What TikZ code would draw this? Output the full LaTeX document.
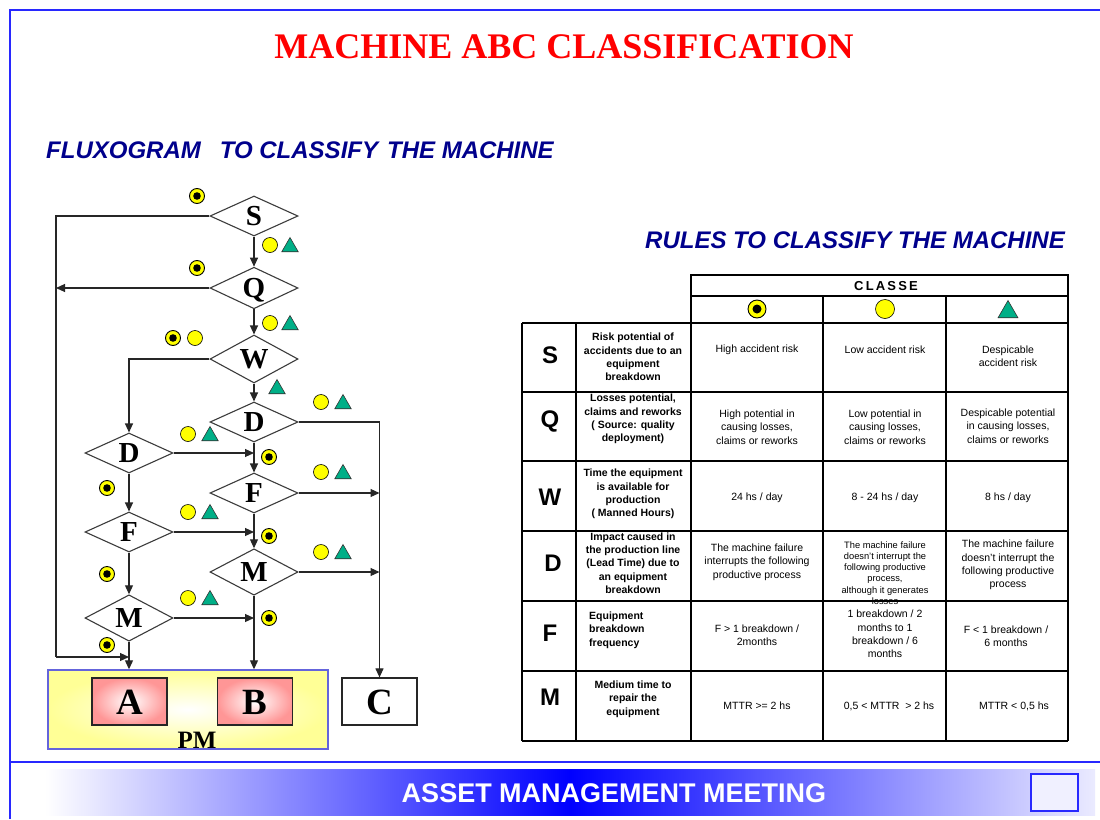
\documentclass[tikz,border=0pt]{standalone}
\usepackage{fontspec}
\setmainfont{Liberation Serif}
\setsansfont{Liberation Sans}
\usetikzlibrary{shapes.geometric,arrows.meta}

\definecolor{frameblue}{RGB}{40,40,255}
\definecolor{navy}{RGB}{0,0,140}
\definecolor{markyellow}{RGB}{255,255,0}
\definecolor{markgreen}{RGB}{0,175,135}
\definecolor{linegray}{RGB}{60,60,60}
\definecolor{pmyellow}{RGB}{255,255,150}
\definecolor{boxpink}{RGB}{255,150,150}
\definecolor{pmborder}{RGB}{100,100,220}
\definecolor{bandblue}{RGB}{0,0,255}

\tikzset{
  frame/.style={draw=frameblue, line width=1.6pt},
  dia/.style={diamond, draw=linegray, line width=1.1pt, fill=white,
    minimum width=88pt, minimum height=40pt, inner sep=0pt,
    font=\fontsize{29pt}{29pt}\selectfont\bfseries, text height=19pt, text depth=0pt},
  flow/.style={draw=black!85, line width=1.1pt},
  arr/.style={flow, -{Triangle[length=9pt,width=8pt]}},
  tgt/.style={circle, draw=black, line width=0.9pt, fill=markyellow, minimum size=15pt,
    inner sep=0pt, path picture={\fill[black] (path picture bounding box.center) circle (3.8pt);}},
  yel/.style={circle, draw=black, line width=0.6pt, fill=markyellow, minimum size=15pt, inner sep=0pt},
  tri/.style={regular polygon, regular polygon sides=3, draw=black!80, line width=0.6pt,
    fill=markgreen, minimum size=19pt, inner sep=0pt},
  letterbox/.style={draw=black!85, line width=1.2pt, minimum width=75pt, minimum height=47pt,
    inner sep=0pt, font=\fontsize{37pt}{37pt}\selectfont\bfseries, text height=25pt, text depth=0pt},
  pinkbox/.style={letterbox, inner color=white, outer color=boxpink},
  heading/.style={font=\sffamily\bfseries\itshape\fontsize{24pt}{24pt}\selectfont, text=navy,
    inner sep=0pt, anchor=west},
  grid/.style={draw=black, line width=1.3pt},
  tletter/.style={font=\sffamily\bfseries\fontsize{24pt}{24pt}\selectfont, text height=17pt,
    text depth=0pt, inner sep=0pt},
  tdesc/.style={font=\sffamily\bfseries\fontsize{10.5pt}{13.3pt}\selectfont, align=center, inner sep=0pt},
  tval/.style={font=\sffamily\fontsize{10.5pt}{13.4pt}\selectfont, align=center, inner sep=0pt},
  tsmall/.style={font=\sffamily\fontsize{9.3pt}{11.2pt}\selectfont, align=center, inner sep=0pt},
}

\begin{document}
\begin{tikzpicture}[x=1pt,y=-1pt]
\useasboundingbox (0,0) rectangle (1100,819);
\fill[white] (0,0) rectangle (1100,819);

% page frame and footer rule
\draw[frame] (10,819) -- (10,10) -- (1100,10);
\draw[frame] (10,762) -- (1100,762);

% titles
\node[font=\fontsize{36pt}{36pt}\selectfont\bfseries, text=red, inner sep=0pt] (title) at (564,47)
  {MACHINE ABC CLASSIFICATION};
\node[heading] (fluxhead) at (46,150)
  {FLUXOGRAM\hspace{19pt}TO CLASSIFY\hspace{9pt}THE MACHINE};
\node[heading] (ruleshead) at (645,240) {RULES TO CLASSIFY THE MACHINE};

% ---------------- flow chart ----------------
\node[dia] (S)  at (254,216) {S};
\node[dia] (Q)  at (254,288) {Q};
\node[dia] (W)  at (254,359) {W};
\node[dia] (D1) at (254,422) {D};
\node[dia] (F1) at (254,493) {F};
\node[dia] (M1) at (254,572) {M};
\node[dia] (D2) at (129,453) {D};
\node[dia] (F2) at (129,532) {F};
\node[dia] (M2) at (129,618) {M};

\node[draw=pmborder, line width=1.4pt, inner color=white, outer color=pmyellow,
  minimum width=280pt, minimum height=79pt, inner sep=0pt] (PM) at (188,709.5) {};
\node[pinkbox] (A) at (129.5,701.5) {A};
\node[pinkbox] (B) at (255,701.5) {B};
\node[letterbox, fill=white] (C) at (379.5,701.5) {C};
\node[font=\fontsize{25pt}{25pt}\selectfont\bfseries, text height=17pt, text depth=0pt,
  inner sep=0pt] (PMlabel) at (197,740) {PM};

\coordinate (trunkTop) at (56,216);
\coordinate (trunkBot) at (56,657);

% main column
\draw[arr] (S.south) -- (Q.north);
\draw[arr] (Q.south) -- (W.north);
\draw[arr] (W.south) -- (D1.north);
\draw[arr] (D1.south) -- (F1.north);
\draw[arr] (F1.south) -- (M1.north);
\draw[arr] (M1.south) -- (M1.south |- PM.north);
% left column
\draw[arr] (W.west) -| (D2.north);
\draw[arr] (D2.south) -- (F2.north);
\draw[arr] (F2.south) -- (M2.north);
\draw[arr] (M2.south) -- (M2.south |- PM.north);
\draw[arr] (D2.east) -- (D2.east -| D1.south);
\draw[arr] (F2.east) -- (F2.east -| D1.south);
\draw[arr] (M2.east) -- (M2.east -| D1.south);
% trunk on the far left
\draw[flow] (S.west) -- (trunkTop) -- (trunkBot);
\draw[arr] (trunkBot) -- (trunkBot -| M2.south);
\draw[arr] (Q.west) -- (Q.west -| trunkTop);
% right branch to C
\draw[arr] (D1.east) -| (C.north);
\draw[arr] (F1.east) -- (F1.east -| C.north);
\draw[arr] (M1.east) -- (M1.east -| C.north);

% class markers along the branches
\node[tgt] (mS1) at (197,196) {};
\node[yel] (mS2) at (270,245) {};
\node[tri] (mS3) at (290,247) {};
\node[tgt] (mQ1) at (197,268) {};
\node[yel] (mQ2) at (270,323) {};
\node[tri] (mQ3) at (290,325) {};
\node[tgt] (mW1) at (173,338) {};
\node[yel] (mW2) at (195,338) {};
\node[tri] (mW3) at (277,389) {};
\node[yel] (mD1a) at (321,402) {};
\node[tri] (mD1b) at (343,404) {};
\node[yel] (mD2a) at (188,434) {};
\node[tri] (mD2b) at (210,436) {};
\node[tgt] (mD2c) at (269,457) {};
\node[tgt] (mD2d) at (107,488) {};
\node[yel] (mF1a) at (321,472) {};
\node[tri] (mF1b) at (343,474) {};
\node[yel] (mF2a) at (188,512) {};
\node[tri] (mF2b) at (210,514) {};
\node[tgt] (mF2c) at (269,536) {};
\node[tgt] (mF2d) at (107,574) {};
\node[yel] (mM1a) at (321,552) {};
\node[tri] (mM1b) at (343,554) {};
\node[yel] (mM2a) at (188,598) {};
\node[tri] (mM2b) at (210,600) {};
\node[tgt] (mM2c) at (269,618) {};
\node[tgt] (mM2d) at (107,645) {};

% ---------------- rules table ----------------
\draw[grid] (691,275) rectangle (1068,296);
\draw[grid] (691,296) rectangle (1068,323);
\draw[grid] (823,296) -- (823,323);
\draw[grid] (946,296) -- (946,323);
\foreach \yy in {323,392,461,531,601,671,741}
  \draw[grid] (522,\yy) -- (1068,\yy);
\foreach \xx in {522,576,691,823,946,1068}
  \draw[grid] (\xx,323) -- (\xx,741);

\node[font=\sffamily\bfseries\fontsize{13pt}{13pt}\selectfont, inner sep=0pt] (classe) at (886,286)
  {C\,L\,A\,S\,S\,E};
\node[tgt, minimum size=18pt, path picture={\fill[black] (path picture bounding box.center) circle (4.5pt);}]
  (hTgt) at (757,309) {};
\node[yel, minimum size=19pt] (hYel) at (885,309) {};
\node[tri, minimum size=23pt] (hTri) at (1008,312) {};

% row letters
\node[tletter] (lS) at (550,355) {S};
\node[tletter] (lQ) at (550,419) {Q};
\node[tletter] (lW) at (550,497) {W};
\node[tletter] (lD) at (553,563) {D};
\node[tletter] (lF) at (550,633) {F};
\node[tletter] (lM) at (550,697) {M};

% criteria
\node[tdesc] (dS) at (633,357) {Risk potential of\\accidents due to an\\equipment\\breakdown};
\node[tdesc] (dQ) at (633,419) {Losses potential,\\claims and reworks\\( Source: quality\\deployment)};
\node[tdesc] (dW) at (633,494) {Time the equipment\\is available for\\production\\( Manned Hours)};
\node[tdesc] (dD) at (633,563) {Impact caused in\\the production line\\(Lead Time) due to\\an equipment\\breakdown};
\node[tdesc, align=left, anchor=west] (dF) at (589,630) {Equipment\\breakdown\\frequency};
\node[tdesc] (dM) at (633,699) {Medium time to\\repair the\\equipment};

% class values
\node[tval] (vS1) at (757,350) {High accident risk};
\node[tval] (vS2) at (885,350) {Low accident risk};
\node[tval] (vS3) at (1008,356) {Despicable\\accident risk};
\node[tval] (vQ1) at (757,427) {High potential in\\causing losses,\\claims or reworks};
\node[tval] (vQ2) at (885,427) {Low potential in\\causing losses,\\claims or reworks};
\node[tval] (vQ3) at (1008,426) {Despicable potential\\in causing losses,\\claims or reworks};
\node[tval] (vW1) at (757,498) {24 hs / day};
\node[tval] (vW2) at (885,498) {8 - 24 hs / day};
\node[tval] (vW3) at (1008,498) {8 hs / day};
\node[tval] (vD1) at (757,562) {The machine failure\\interrupts the following\\productive process};
\node[tsmall] (vD2) at (885,573) {The machine failure\\doesn't interrupt the\\following productive\\process,\\although it generates\\losses};
\node[tval] (vD3) at (1008,565) {The machine failure\\doesn't interrupt the\\following productive\\process};
\node[tval] (vF1) at (757,635) {F > 1 breakdown /\\2months};
\node[tval] (vF2) at (885,634) {1 breakdown / 2\\months to 1\\breakdown / 6\\months};
\node[tval] (vF3) at (1006,636) {F < 1 breakdown /\\6 months};
\node[tval] (vM1) at (757,706) {MTTR >= 2 hs};
\node[tval] (vM2) at (889,706) {0,5 < MTTR\ \ > 2 hs};
\node[tval] (vM3) at (1014,706) {MTTR < 0,5 hs};

% ---------------- footer ----------------
\shade[left color=white, right color=white!92!bandblue, middle color=bandblue]
  (45,769) rectangle (1095,815);
\node[font=\sffamily\bfseries\fontsize{27pt}{27pt}\selectfont, text=white, inner sep=0pt]
  (footer) at (614,793) {ASSET MANAGEMENT MEETING};
\node[draw=frameblue, line width=1.5pt, fill=white!94!bandblue, minimum width=47pt,
  minimum height=37pt, inner sep=0pt] (footbox) at (1054.5,792.5) {};
\end{tikzpicture}
\end{document}
